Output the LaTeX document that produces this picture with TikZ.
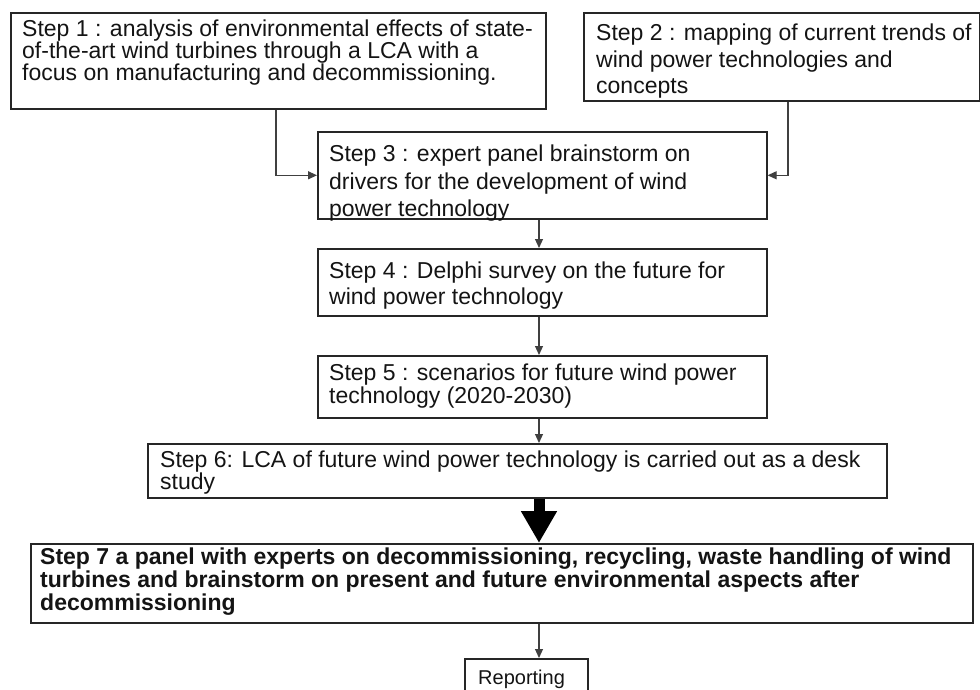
\documentclass[tikz,border=0pt]{standalone}
\usepackage{fontspec}
\setmainfont{Liberation Sans}
\usetikzlibrary{arrows.meta,calc}
\begin{document}
\begin{tikzpicture}[x=1pt,y=-1pt,
  box/.style={draw=black!85, line width=1.6pt, anchor=north west, inner sep=0pt, fill=white},
  txt/.style={anchor=north west, inner sep=0pt, align=left, text=black!92},
  conn/.style={draw=black!75, line width=1.2pt, -{Triangle[length=9pt,width=8pt]}},
  bigconn/.style={draw=black, line width=11pt, -{Triangle[length=32pt,width=34pt]}}]
\useasboundingbox[fill=white] (0,0) rectangle (980,690);
% boxes
\node[box, minimum width=535pt, minimum height=96pt] (s1) at (10,12) {};
\node[box, minimum width=396pt, minimum height=88pt] (s2) at (583,12) {};
\node[box, minimum width=449pt, minimum height=87pt] (s3) at (317,131) {};
\node[box, minimum width=449pt, minimum height=67pt] (s4) at (317,248) {};
\node[box, minimum width=449pt, minimum height=62pt] (s5) at (317,355) {};
\node[box, minimum width=739pt, minimum height=54pt] (s6) at (147,443) {};
\node[box, minimum width=942pt, minimum height=79pt] (s7) at (30,543) {};
\node[box, minimum width=123pt, minimum height=45pt] (rep) at (464,658) {};
% texts
\node[txt, font=\fontsize{23}{22}\selectfont] (t1) at (22,20)
  {Step 1 : analysis of environmental effects of state-\\of-the-art wind turbines through a LCA with a\\focus on manufacturing and decommissioning.};
\node[txt, font=\fontsize{23}{26.5}\selectfont] (t2) at (596,24)
  {Step 2 : mapping of current trends of\\wind power technologies and\\concepts};
\node[txt, font=\fontsize{23}{27.5}\selectfont] (t3) at (329,145)
  {Step 3 : expert panel brainstorm on\\drivers for the development of wind\\power technology};
\node[txt, font=\fontsize{23}{26}\selectfont] (t4) at (329,262)
  {Step 4 : Delphi survey on the future for\\wind power technology};
\node[txt, font=\fontsize{23}{23}\selectfont] (t5) at (329,364)
  {Step 5 : scenarios for future wind power\\technology (2020-2030)};
\node[txt, font=\fontsize{23}{22}\selectfont] (t6) at (160,451)
  {Step 6: LCA of future wind power technology is carried out as a desk\\study};
\node[txt, font=\fontsize{23}{23}\selectfont\bfseries] (t7) at (40,548)
  {Step 7 a panel with experts on decommissioning, recycling, waste handling of wind\\turbines and brainstorm on present and future environmental aspects after\\decommissioning};
\node[txt, font=\fontsize{20}{20}\selectfont] (tr) at (478,670) {Reporting};
% connector helpers
\coordinate (cl) at (276,0);
\coordinate (cr) at (788,0);
\coordinate (cx) at (539,0);
% connectors
\draw[conn] (s1.south -| cl) |- (s3.west);
\draw[conn] (s2.south -| cr) |- (s3.east);
\draw[conn] (s3.south -| cx) -- (s4.north -| cx);
\draw[conn] (s4.south -| cx) -- (s5.north -| cx);
\draw[conn] (s5.south -| cx) -- (s6.north -| cx);
\draw[bigconn] (s6.south -| cx) -- (s7.north -| cx);
\draw[conn] (s7.south -| cx) -- (rep.north -| cx);
\end{tikzpicture}
\end{document}
